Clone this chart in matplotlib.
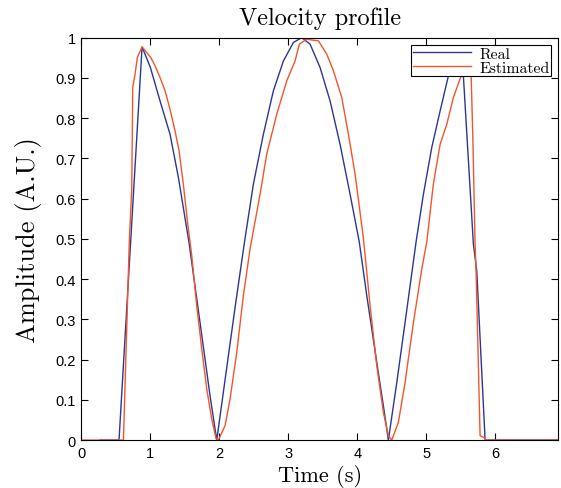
import matplotlib
matplotlib.use('Agg')
import matplotlib.pyplot as plt

# values
t_real = [0.27, 0.546, 0.88, 1.0, 1.14, 1.285, 1.406, 1.561, 1.72, 1.865, 1.962,
          2.107, 2.228, 2.365, 2.493, 2.638, 2.783, 2.928, 3.073, 3.194, 3.314,
          3.459, 3.604, 3.749, 3.894, 4.027, 4.136, 4.281, 4.377, 4.449,
          4.571, 4.691, 4.851, 4.957, 5.078, 5.199, 5.319, 5.42, 5.49, 5.536,
          5.681, 5.73, 5.851, 6.91]
v_real = [0.0, 0.0, 0.977, 0.926, 0.843, 0.76, 0.653, 0.49, 0.292, 0.11, 0.0,
          0.18, 0.33, 0.493, 0.636, 0.76, 0.868, 0.942, 0.988, 1.0, 0.984,
          0.926, 0.843, 0.735, 0.611, 0.493, 0.359, 0.193, 0.085, 0.0,
          0.143, 0.292, 0.493, 0.611, 0.727, 0.818, 0.905, 0.94, 0.955, 0.905,
          0.487, 0.42, 0.0, 0.0]

t_est = [0.0, 0.61, 0.696, 0.73, 0.745, 0.778, 0.812, 0.88, 0.947, 1.005, 1.068,
         1.14, 1.213, 1.285, 1.358, 1.416, 1.478, 1.536, 1.6, 1.672, 1.745,
         1.817, 1.89, 1.952, 1.986, 2.083, 2.155, 2.252, 2.348, 2.445, 2.59,
         2.687, 2.832, 2.977, 3.097, 3.16, 3.266, 3.435, 3.556, 3.652, 3.774,
         3.87, 3.967, 4.087, 4.184, 4.281, 4.377, 4.449, 4.498, 4.594, 4.691,
         4.812, 4.933, 5.006, 5.101, 5.199, 5.296, 5.391, 5.503, 5.58, 5.64,
         5.672, 5.706, 5.72, 5.778, 5.85, 5.86, 6.91]
v_est = [0.0, 0.0, 0.5, 0.62, 0.876, 0.909, 0.951, 0.977, 0.963, 0.951, 0.93,
         0.901, 0.868, 0.822, 0.768, 0.719, 0.636, 0.545, 0.458, 0.334, 0.226,
         0.127, 0.052, 0.004, 0.0, 0.036, 0.102, 0.218, 0.359, 0.475, 0.611,
         0.711, 0.81, 0.893, 0.942, 0.984, 0.996, 0.992, 0.959, 0.918, 0.851,
         0.76, 0.661, 0.502, 0.334, 0.185, 0.069, 0.011, 0.0, 0.044, 0.143,
         0.292, 0.425, 0.493, 0.636, 0.735, 0.785, 0.851, 0.905, 0.95, 0.96,
         0.76, 0.487, 0.42, 0.011, 0.005, 0.0, 0.0]

x_ticks = [0, 1, 2, 3, 4, 5, 6]
y_ticks = [0, 0.1, 0.2, 0.3, 0.4, 0.5, 0.6, 0.7, 0.8, 0.9, 1]
y_labels = ['0', '0.1', '0.2', '0.3', '0.4', '0.5', '0.6', '0.7', '0.8', '0.9', '1']

serif = 'cmr10'

fig = plt.figure(figsize=(5.61, 4.89), dpi=100)
ax = fig.add_axes([0.145, 0.098, 0.85, 0.823])

ax.plot(t_real, v_real, color='#2a3795', lw=1.0, label='Real')
ax.plot(t_est, v_est, color='#f4552a', lw=1.0, label='Estimated')

ax.set_xlim(0, 6.91)
ax.set_ylim(0, 1)
ax.set_xticks(x_ticks)
ax.set_yticks(y_ticks)
ax.set_yticklabels(y_labels)
ax.tick_params(direction='in', top=True, right=True, length=5, width=0.8,
               labelsize=10.5, pad=4)
for lbl in ax.get_xticklabels() + ax.get_yticklabels():
    lbl.set_family('Liberation Sans')
for s in ax.spines.values():
    s.set_linewidth(0.8)

ax.set_title('Velocity profile', fontsize=17.5, family=serif, pad=10)
ax.set_xlabel('Time (s)', fontsize=16, family=serif, labelpad=3)
ax.set_ylabel('Amplitude (A.U.)', fontsize=19, family=serif, labelpad=10)

leg = ax.legend(loc='upper right', prop={'family': serif, 'size': 11.3},
                fancybox=False, framealpha=1, edgecolor='black',
                borderpad=0.12, labelspacing=0.0, handlelength=3.7,
                handletextpad=0.5, borderaxespad=0.45)
leg.get_frame().set_linewidth(0.8)

fig.savefig('out.png', dpi=100)
